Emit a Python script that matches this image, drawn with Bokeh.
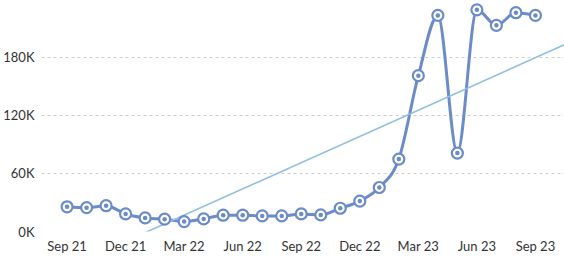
import numpy as np
from bokeh.plotting import figure
from bokeh.models import FixedTicker, Range1d
from bokeh.embed import file_html
from bokeh.resources import INLINE

# Data, monthly Sep 21 .. Sep 23
months = ["Sep 21", "Oct 21", "Nov 21", "Dec 21", "Jan 22", "Feb 22", "Mar 22", "Apr 22",
          "May 22", "Jun 22", "Jul 22", "Aug 22", "Sep 22", "Oct 22", "Nov 22", "Dec 22",
          "Jan 23", "Feb 23", "Mar 23", "Apr 23", "May 23", "Jun 23", "Jul 23", "Aug 23", "Sep 23"]
values = [25500, 24600, 26600, 18100, 14000, 12700, 10200, 13000,
          16800, 16800, 16100, 16100, 18100, 17100, 24000, 31400,
          45400, 74700, 160800, 222900, 80900, 228700, 212700, 225700, 222900]
x_tick_labels = ["Sep 21", "Dec 21", "Mar 22", "Jun 22", "Sep 22", "Dec 22", "Mar 23", "Jun 23", "Sep 23"]
y_ticks = [0, 60000, 120000, 180000]
y_tick_labels = ["0K", "60K", "120K", "180K"]

idx = np.arange(len(values), dtype=float)
y = np.array(values, dtype=float)

x_start, x_end = -1.31, 25.49
p = figure(width=564, height=256, output_backend="svg", toolbar_location=None,
           x_range=Range1d(x_start, x_end), y_range=Range1d(0, 238300),
           min_border_left=40, min_border_right=0, min_border_top=0, min_border_bottom=23)
p.outline_line_color = None
p.background_fill_color = "white"
p.border_fill_color = "white"

# monotone cubic (d3 monotoneX style) tangents
n = len(y)
s = np.diff(y)
m = np.zeros(n)
for k in range(1, n - 1):
    s0, s1 = s[k - 1], s[k]
    pp = (s0 + s1) / 2.0
    m[k] = (np.sign(s0) + np.sign(s1)) * min(abs(s0), abs(s1), 0.5 * abs(pp))
m[0] = (3 * s[0] - m[1]) / 2.0
m[-1] = (3 * s[-1] - m[-2]) / 2.0

x0 = idx[:-1]; x1 = idx[1:]
y0 = y[:-1]; y1 = y[1:]
p.bezier(x0=x0, y0=y0, x1=x1, y1=y1,
         cx0=x0 + 1 / 3, cy0=y0 + m[:-1] / 3,
         cx1=x1 - 1 / 3, cy1=y1 - m[1:] / 3,
         line_color="#6b8cc8", line_width=3, line_cap="round")

# linear trend of the series
a, b = np.polyfit(idx, y, 1)
p.line([x_start, x_end], [a * x_start + b, a * x_end + b], line_color="#8fc0dc", line_width=1.6)

# markers
p.scatter(idx, y, size=11, marker="circle", fill_color="white", line_color="#6b8cc8", line_width=2.2)
p.scatter(idx, y, size=4.5, marker="circle", fill_color="#6b8cc8", line_color=None)

# axes
tick_pos = [months.index(t) for t in x_tick_labels]
p.xaxis.ticker = FixedTicker(ticks=tick_pos)
p.xaxis.major_label_overrides = {pos: lab for pos, lab in zip(tick_pos, x_tick_labels)}
p.yaxis.ticker = FixedTicker(ticks=y_ticks)
p.yaxis.major_label_overrides = {v: lab for v, lab in zip(y_ticks, y_tick_labels)}
for ax in (p.xaxis, p.yaxis):
    ax.axis_line_color = None
    ax.major_tick_line_color = None
    ax.minor_tick_line_color = None
    ax.major_tick_out = 0
    ax.major_tick_in = 0
    ax.minor_tick_out = 0
    ax.minor_tick_in = 0
    ax.major_label_text_font = "Lato"
    ax.major_label_text_font_size = "13px"
    ax.major_label_text_color = "#333333"
p.yaxis.major_label_standoff = 7
p.xaxis.major_label_standoff = 6

p.xgrid.grid_line_color = None
p.ygrid.ticker = FixedTicker(ticks=y_ticks)
p.ygrid.grid_line_color = "#cccccc"
p.ygrid.grid_line_dash = "3 3"
p.ygrid.grid_line_width = 1

open("out.html", "w").write(file_html(p, INLINE))
